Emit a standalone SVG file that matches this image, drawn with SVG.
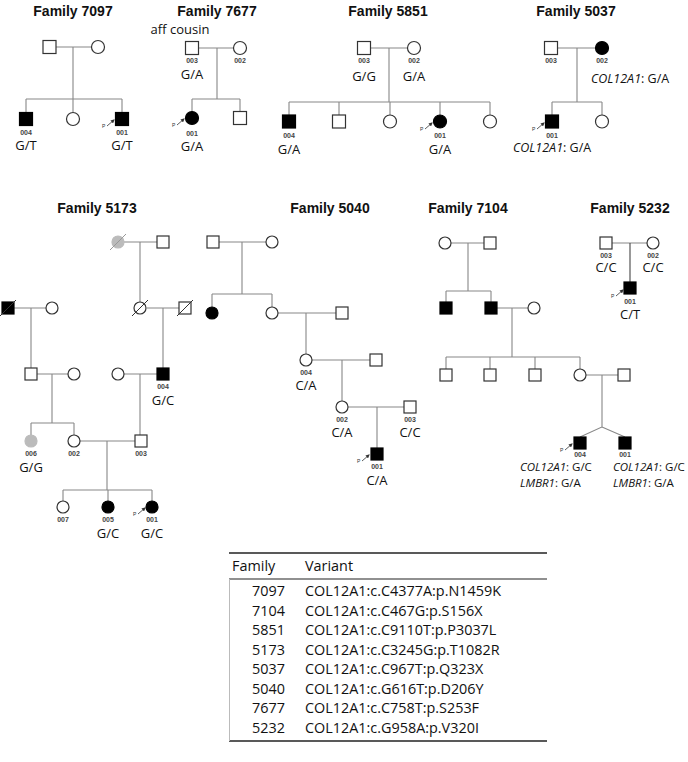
<svg xmlns="http://www.w3.org/2000/svg" width="688" height="762" viewBox="0 0 688 762">
<defs>
<style>
.t{font-family:"Liberation Sans",Arial,sans-serif;font-weight:bold;font-size:14px;text-anchor:middle;fill:#111}
.id{font-family:"Liberation Sans",Arial,sans-serif;font-weight:bold;font-size:7px;text-anchor:middle;fill:#444}
.g{font-family:"Open Sans",sans-serif;font-size:13px;text-anchor:middle;fill:#111}
.gl{font-family:"Open Sans",sans-serif;font-size:12.5px;fill:#111}
.gs{font-family:"Open Sans",sans-serif;font-size:11.5px;fill:#111}
.it{font-style:italic}
.n{fill:#fff;stroke:#333;stroke-width:1.2}
.f{fill:#000;stroke:#000;stroke-width:1.2}
.gy{fill:#bbb;stroke:#bbb;stroke-width:1.2}
.sl{stroke:#333;stroke-width:1;fill:none}
.p{font-family:"Liberation Sans",Arial,sans-serif;font-size:5px;fill:#333}
.pa{stroke:#333;stroke-width:0.8;fill:none;marker-end:url(#ah)}
#connectors path{stroke:#888;stroke-width:1.1;fill:none}
.tb{font-family:"Open Sans",sans-serif;font-size:14.4px;fill:#111}
</style>
<marker id="ah" markerWidth="4" markerHeight="4" refX="3" refY="2" orient="auto" markerUnits="userSpaceOnUse"><path d="M0,0 L4,2 L0,4 z" fill="#333"/></marker>
</defs>
<rect width="688" height="762" fill="#fff"/>

<g id="connectors">
<path d="M56,47 H91.5 M73,47 V99 M26,99 H122 M26,99 V112.5 M73,99 V112.5 M122,99 V112.5"/>
<path d="M198.5,48 H233.5 M217,48 V99 M192,99 H240 M192,99 V111.5 M240,99 V111.5"/>
<path d="M370.5,48 H407.5 M389,48 V102 M289,102 H490 M289,102 V115 M339,102 V115 M390,102 V115 M440,102 V115 M490,102 V115"/>
<path d="M557.5,48 H595.5 M577,48 V102 M552,102 H602 M552,102 V115 M602,102 V115"/>
<path d="M124,242 H157 M140,242 V302 M147,308 H179 M163,308 V368 M124,374 H157 M140,374 V435 M14,308 H46 M31,308 V368 M37,374 H68 M52,374 V423 M31,423 H74 M31,423 V435 M74,423 V435 M80,441 H135 M107,441 V490 M63,490 H152 M63,490 V501 M108,490 V501 M152,490 V501"/>
<path d="M219,242 H266 M242,242 V294 M212,294 H272 M212,294 V307 M272,294 V307 M278,313 H336 M306,313 V354 M312,360 H370 M342,360 V401 M348,407 H404 M377,407 V448"/>
<path d="M451,243 H484 M468,243 V291 M446,291 H491 M446,291 V302 M491,291 V302 M497,308 H528 M512,308 V357 M446,357 H580 M446,357 V369 M490,357 V369 M535,357 V369 M580,357 V369 M586,375 H618 M602,375 V427 L580,437 M602,427 L625,437"/>
<path d="M612,243 H647"/>
<path d="M630,243 V282" style="stroke:#444"/>
</g>

<g id="family-7097">
<text class="t" x="73" y="16">Family 7097</text>
<g id="f7097-father"><rect class="n" x="43" y="40.5" width="13" height="13"/></g>
<g id="f7097-mother"><circle class="n" cx="98" cy="47" r="6.5"/></g>
<g id="f7097-004"><rect class="f" x="19.5" y="112.5" width="13" height="13"/><text class="id" x="26" y="135">004</text><text class="g" x="26" y="150">G/T</text></g>
<g id="f7097-dau"><circle class="n" cx="73" cy="119" r="6.5"/></g>
<g id="f7097-001"><rect class="f" x="115.5" y="112.5" width="13" height="13"/><text class="id" x="122" y="135">001</text><text class="g" x="122" y="150">G/T</text><text class="p" x="102" y="128">P</text><path class="pa" d="M107,126 L114,120"/></g>
</g>

<g id="family-7677">
<text class="t" x="217" y="16">Family 7677</text>
<text class="g" x="180" y="34">aff cousin</text>
<g id="f7677-003"><rect class="n" x="185.5" y="41.5" width="13" height="13"/><text class="id" x="192" y="63">003</text><text class="g" x="192" y="79">G/A</text></g>
<g id="f7677-002"><circle class="n" cx="240" cy="48" r="6.5"/><text class="id" x="240" y="63">002</text></g>
<g id="f7677-001"><circle class="f" cx="192" cy="118" r="6.5"/><text class="id" x="192" y="136">001</text><text class="g" x="192" y="151">G/A</text><text class="p" x="172" y="127">P</text><path class="pa" d="M177,125 L184,119"/></g>
<g id="f7677-son"><rect class="n" x="233.5" y="111.5" width="13" height="13"/></g>
</g>

<g id="family-5851">
<text class="t" x="388" y="16">Family 5851</text>
<g id="f5851-003"><rect class="n" x="357.5" y="41.5" width="13" height="13"/><text class="id" x="364" y="63">003</text><text class="g" x="364" y="81">G/G</text></g>
<g id="f5851-002"><circle class="n" cx="414" cy="48" r="6.5"/><text class="id" x="414" y="63">002</text><text class="g" x="414" y="81">G/A</text></g>
<g id="f5851-004"><rect class="f" x="282.5" y="115" width="13" height="13"/><text class="id" x="289" y="138">004</text><text class="g" x="289" y="154">G/A</text></g>
<g id="f5851-son"><rect class="n" x="332.5" y="115" width="13" height="13"/></g>
<g id="f5851-dau1"><circle class="n" cx="390" cy="121.5" r="6.5"/></g>
<g id="f5851-001"><circle class="f" cx="440" cy="121.5" r="6.5"/><text class="id" x="440" y="138">001</text><text class="g" x="440" y="154">G/A</text><text class="p" x="420" y="131">P</text><path class="pa" d="M425,129 L432,123"/></g>
<g id="f5851-dau2"><circle class="n" cx="490" cy="121.5" r="6.5"/></g>
</g>

<g id="family-5037">
<text class="t" x="576" y="16">Family 5037</text>
<g id="f5037-003"><rect class="n" x="544.5" y="41.5" width="13" height="13"/><text class="id" x="551" y="63">003</text></g>
<g id="f5037-002"><circle class="f" cx="602" cy="48" r="6.5"/><text class="id" x="602" y="63">002</text><text class="gl" x="591" y="83"><tspan class="it">COL12A1</tspan>: G/A</text></g>
<g id="f5037-001"><rect class="f" x="545.5" y="115" width="13" height="13"/><text class="id" x="552" y="138">001</text><text class="gl" x="513" y="152"><tspan class="it">COL12A1</tspan>: G/A</text><text class="p" x="532" y="131">P</text><path class="pa" d="M537,129 L544,123"/></g>
<g id="f5037-dau"><circle class="n" cx="602" cy="121.5" r="6.5"/></g>
</g>

<g id="family-5173">
<text class="t" x="97" y="213">Family 5173</text>
<g id="f5173-ggm"><circle class="gy" cx="118" cy="242" r="6"/><path class="sl" d="M110,250 L126,234" style="stroke:#999"/></g>
<g id="f5173-ggf"><rect class="n" x="157" y="236" width="12" height="12"/></g>
<g id="f5173-gm"><circle class="n" cx="140" cy="308" r="6"/><path class="sl" d="M132,316 L148,300"/></g>
<g id="f5173-gf"><rect class="n" x="179" y="302" width="12" height="12"/><path class="sl" d="M177,316 L193,300"/></g>
<g id="f5173-004"><rect class="f" x="157" y="368" width="12" height="12"/><text class="id" x="163" y="389">004</text><text class="g" x="163" y="405">G/C</text></g>
<g id="f5173-w004"><circle class="n" cx="118" cy="374" r="6"/></g>
<g id="f5173-003"><rect class="n" x="135" y="435" width="12" height="12"/><text class="id" x="141" y="456">003</text></g>
<g id="f5173-pgf"><rect class="f" x="2" y="302" width="12" height="12"/><path class="sl" d="M0,316 L16,300"/></g>
<g id="f5173-pgm"><circle class="n" cx="52" cy="308" r="6"/></g>
<g id="f5173-pf"><rect class="n" x="25" y="368" width="12" height="12"/></g>
<g id="f5173-pm"><circle class="n" cx="74" cy="374" r="6"/></g>
<g id="f5173-006"><circle class="gy" cx="31" cy="441" r="6"/><text class="id" x="31" y="456">006</text><text class="g" x="31" y="472">G/G</text></g>
<g id="f5173-002"><circle class="n" cx="74" cy="441" r="6"/><text class="id" x="74" y="456">002</text></g>
<g id="f5173-007"><circle class="n" cx="63" cy="507" r="6"/><text class="id" x="63" y="522">007</text></g>
<g id="f5173-005"><circle class="f" cx="108" cy="507" r="6"/><text class="id" x="108" y="522">005</text><text class="g" x="108" y="538">G/C</text></g>
<g id="f5173-001"><circle class="f" cx="152" cy="507" r="6"/><text class="id" x="152" y="522">001</text><text class="g" x="152" y="538">G/C</text><text class="p" x="133" y="516">P</text><path class="pa" d="M138,514 L145,508"/></g>
</g>

<g id="family-5040">
<text class="t" x="330" y="213">Family 5040</text>
<g id="f5040-gf"><rect class="n" x="207" y="236" width="12" height="12"/></g>
<g id="f5040-gm"><circle class="n" cx="272" cy="242" r="6"/></g>
<g id="f5040-aunt"><circle class="f" cx="212" cy="313" r="6"/></g>
<g id="f5040-m"><circle class="n" cx="272" cy="313" r="6"/></g>
<g id="f5040-mh"><rect class="n" x="336" y="307" width="12" height="12"/></g>
<g id="f5040-004"><circle class="n" cx="306" cy="360" r="6"/><text class="id" x="306" y="375">004</text><text class="g" x="306" y="390">C/A</text></g>
<g id="f5040-4h"><rect class="n" x="370" y="354" width="12" height="12"/></g>
<g id="f5040-002"><circle class="n" cx="342" cy="407" r="6"/><text class="id" x="342" y="422">002</text><text class="g" x="342" y="437">C/A</text></g>
<g id="f5040-003"><rect class="n" x="404" y="401" width="12" height="12"/><text class="id" x="410" y="422">003</text><text class="g" x="410" y="437">C/C</text></g>
<g id="f5040-001"><rect class="f" x="371" y="448" width="12" height="12"/><text class="id" x="377" y="469">001</text><text class="g" x="377" y="485">C/A</text><text class="p" x="357" y="463">P</text><path class="pa" d="M362,461 L369,455"/></g>
</g>

<g id="family-7104">
<text class="t" x="468" y="213">Family 7104</text>
<g id="f7104-gm"><circle class="n" cx="445" cy="243" r="6"/></g>
<g id="f7104-gf"><rect class="n" x="484" y="237" width="12" height="12"/></g>
<g id="f7104-u"><rect class="f" x="440" y="302" width="12" height="12"/></g>
<g id="f7104-f"><rect class="f" x="485" y="302" width="12" height="12"/></g>
<g id="f7104-m"><circle class="n" cx="534" cy="308" r="6"/></g>
<g id="f7104-s1"><rect class="n" x="440" y="369" width="12" height="12"/></g>
<g id="f7104-s2"><rect class="n" x="484" y="369" width="12" height="12"/></g>
<g id="f7104-s3"><rect class="n" x="529" y="369" width="12" height="12"/></g>
<g id="f7104-d"><circle class="n" cx="580" cy="375" r="6"/></g>
<g id="f7104-dh"><rect class="n" x="618" y="369" width="12" height="12"/></g>
<g id="f7104-004"><rect class="f" x="574" y="437" width="12" height="12"/><text class="id" x="580" y="457">004</text><text class="gs" x="520" y="471"><tspan class="it">COL12A1</tspan>: G/C</text><text class="gs" x="520" y="487"><tspan class="it">LMBR1</tspan>: G/A</text><text class="p" x="560" y="452">P</text><path class="pa" d="M565,450 L572,444"/></g>
<g id="f7104-001"><rect class="f" x="619" y="437" width="12" height="12"/><text class="id" x="625" y="457">001</text><text class="gs" x="613" y="471"><tspan class="it">COL12A1</tspan>: G/C</text><text class="gs" x="613" y="487"><tspan class="it">LMBR1</tspan>: G/A</text></g>
</g>

<g id="family-5232">
<text class="t" x="630" y="213">Family 5232</text>
<g id="f5232-003"><rect class="n" x="600" y="237" width="12" height="12"/><text class="id" x="606" y="258">003</text><text class="g" x="606" y="272">C/C</text></g>
<g id="f5232-002"><circle class="n" cx="653" cy="243" r="6"/><text class="id" x="653" y="258">002</text><text class="g" x="653" y="272">C/C</text></g>
<g id="f5232-001"><rect class="f" x="624" y="282" width="12" height="12"/><text class="id" x="630" y="304">001</text><text class="g" x="630" y="319">C/T</text><text class="p" x="611" y="298">P</text><path class="pa" d="M616,296 L623,290"/></g>
</g>

<g id="table">
<path d="M229,553 H547" stroke="#222" stroke-width="1.6"/>
<path d="M229,579 H547" stroke="#222" stroke-width="1.2"/>
<path d="M229,741 H547" stroke="#222" stroke-width="1.6"/>
<path d="M229.5,579 V741" stroke="#bbb" stroke-width="1"/>
<text class="tb" x="232" y="571">Family</text>
<text class="tb" x="305" y="571">Variant</text>
<text class="tb" x="252" y="596">7097</text><text class="tb" x="305" y="596">COL12A1:c.C4377A:p.N1459K</text>
<text class="tb" x="252" y="615.5">7104</text><text class="tb" x="305" y="615.5">COL12A1:c.C467G:p.S156X</text>
<text class="tb" x="252" y="635">5851</text><text class="tb" x="305" y="635">COL12A1:c.C9110T:p.P3037L</text>
<text class="tb" x="252" y="654.5">5173</text><text class="tb" x="305" y="654.5">COL12A1:c.C3245G:p.T1082R</text>
<text class="tb" x="252" y="674">5037</text><text class="tb" x="305" y="674">COL12A1:c.C967T:p.Q323X</text>
<text class="tb" x="252" y="693.5">5040</text><text class="tb" x="305" y="693.5">COL12A1:c.G616T:p.D206Y</text>
<text class="tb" x="252" y="713">7677</text><text class="tb" x="305" y="713">COL12A1:c.C758T:p.S253F</text>
<text class="tb" x="252" y="732.5">5232</text><text class="tb" x="305" y="732.5">COL12A1:c.G958A:p.V320I</text>
</g>
</svg>
